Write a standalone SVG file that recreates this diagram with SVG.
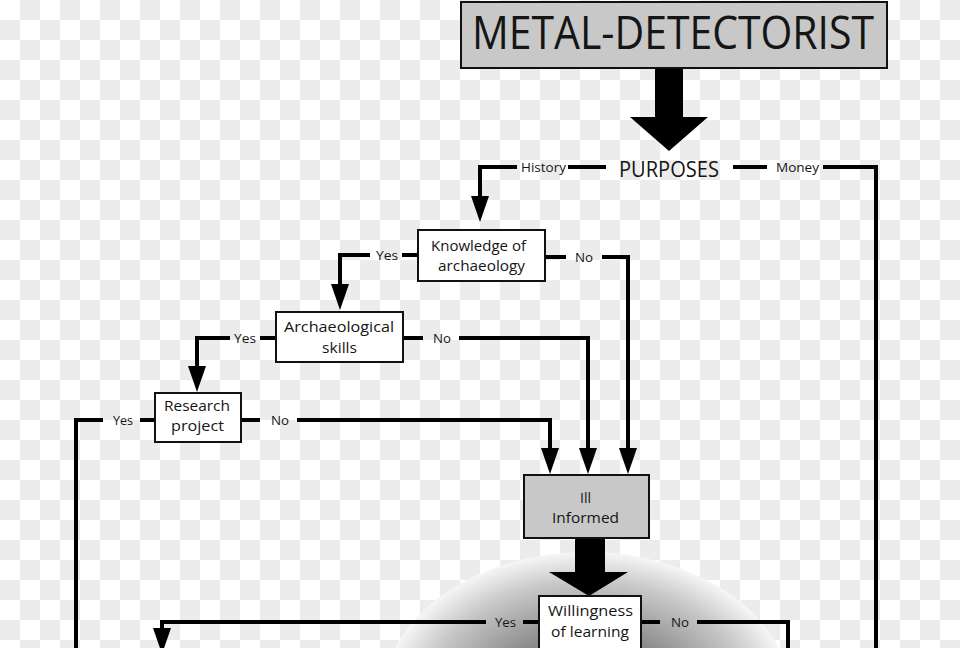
<svg xmlns="http://www.w3.org/2000/svg" width="960" height="648" viewBox="0 0 960 648">
<defs>
<pattern id="chk" width="40" height="40" patternUnits="userSpaceOnUse">
<rect width="40" height="40" fill="#ffffff"/>
<rect x="20" y="0" width="20" height="20" fill="#ececec"/>
<rect x="0" y="20" width="20" height="20" fill="#ececec"/>
</pattern>
<radialGradient id="glow" cx="0.5" cy="0.5" r="0.5">
<stop offset="0" stop-color="#5e5e5e"/>
<stop offset="0.45" stop-color="#8a8a8a"/>
<stop offset="0.8" stop-color="#c8c8c8"/>
<stop offset="1" stop-color="#f6f6f6"/>
</radialGradient>
<marker id="ah" markerUnits="userSpaceOnUse" markerWidth="26" markerHeight="18" refX="16" refY="9" orient="auto" overflow="visible">
<path d="M0,0 L26,9 L0,18 z" fill="#000"/>
</marker>
<style>
.ln{fill:none;stroke:#000;stroke-width:4;stroke-linejoin:miter}
.arr{marker-end:url(#ah)}
.box{fill:#fff;stroke:#111;stroke-width:2}
.gbox{fill:#c8c8c8;stroke:#111;stroke-width:2}
.fat{fill:#000}
text{font-family:"Open Sans","Noto Sans","Liberation Sans",sans-serif;fill:#151515}
.bt{font-size:15px}
.lb{font-size:13px}
</style>
</defs>
<rect width="960" height="648" fill="url(#chk)"/>
<ellipse cx="587" cy="700" rx="205" ry="148" fill="url(#glow)"/>

<g id="connectors">
<path class="ln arr" d="M517,167 H480 V212"/>
<path class="ln" d="M568,167 H606"/>
<path class="ln" d="M733,167 H767"/>
<path class="ln" d="M823,167 H876 V650"/>
<path class="ln arr" d="M370,255 H340 V300"/>
<path class="ln" d="M402,255 H418"/>
<path class="ln" d="M546,257 H566"/>
<path class="ln arr" d="M602,257 H628 V464"/>
<path class="ln" d="M260,338 H276"/>
<path class="ln arr" d="M230,338 H197 V382"/>
<path class="ln" d="M404,338 H423"/>
<path class="ln arr" d="M459,338 H588 V464"/>
<path class="ln" d="M140,420 H155"/>
<path class="ln" d="M103,420 H76 V650"/>
<path class="ln" d="M241,420 H260"/>
<path class="ln arr" d="M297,420 H550 V464"/>
<path class="ln" d="M523,622 H538"/>
<path class="ln arr" d="M486,622 H162 V644"/>
<path class="ln" d="M642,622 H660"/>
<path class="ln" d="M697,622 H788 V650"/>
<polygon class="fat" points="655,68 683,68 683,117 708,117 669,151 630,117 655,117"/>
<polygon class="fat" points="575,539 605,539 605,572 628,572 589,596 549,572 575,572"/>
</g>

<g id="n-title">
<rect class="gbox" x="461" y="2" width="426" height="66"/>
<text x="472" y="49" font-size="46" textLength="402" lengthAdjust="spacingAndGlyphs">METAL-DETECTORIST</text>
</g>
<g id="n-purposes">
<text x="619" y="177" font-size="21" textLength="100" lengthAdjust="spacingAndGlyphs">PURPOSES</text>
</g>
<g id="labels">
<text class="lb" x="521" y="172" textLength="45" lengthAdjust="spacingAndGlyphs">History</text>
<text class="lb" x="776" y="172" textLength="43" lengthAdjust="spacingAndGlyphs">Money</text>
<text class="lb" x="376" y="260" textLength="22" lengthAdjust="spacingAndGlyphs">Yes</text>
<text class="lb" x="575" y="262" textLength="18" lengthAdjust="spacingAndGlyphs">No</text>
<text class="lb" x="234" y="343" textLength="22" lengthAdjust="spacingAndGlyphs">Yes</text>
<text class="lb" x="433" y="343" textLength="18" lengthAdjust="spacingAndGlyphs">No</text>
<text class="lb" x="113" y="425" textLength="20" lengthAdjust="spacingAndGlyphs">Yes</text>
<text class="lb" x="271" y="425" textLength="18" lengthAdjust="spacingAndGlyphs">No</text>
<text class="lb" x="495" y="627" textLength="21" lengthAdjust="spacingAndGlyphs">Yes</text>
<text class="lb" x="671" y="627" textLength="18" lengthAdjust="spacingAndGlyphs">No</text>
</g>
<g id="n-knowledge">
<rect class="box" x="418" y="230" width="127" height="51"/>
<text class="bt" x="431" y="251" textLength="95" lengthAdjust="spacingAndGlyphs">Knowledge of</text>
<text class="bt" x="438" y="271" textLength="87" lengthAdjust="spacingAndGlyphs">archaeology</text>
</g>
<g id="n-skills">
<rect class="box" x="276" y="312" width="127" height="50"/>
<text class="bt" x="284" y="331.5" textLength="110" lengthAdjust="spacingAndGlyphs">Archaeological</text>
<text class="bt" x="322" y="352.5" textLength="35" lengthAdjust="spacingAndGlyphs">skills</text>
</g>
<g id="n-research">
<rect class="box" x="155" y="393" width="86" height="49"/>
<text class="bt" x="164" y="410.5" textLength="66" lengthAdjust="spacingAndGlyphs">Research</text>
<text class="bt" x="171" y="431" textLength="53" lengthAdjust="spacingAndGlyphs">project</text>
</g>
<g id="n-ill">
<rect class="gbox" x="524" y="475" width="125" height="63"/>
<text class="bt" x="580" y="503" textLength="11" lengthAdjust="spacingAndGlyphs">Ill</text>
<text class="bt" x="552" y="523" textLength="67" lengthAdjust="spacingAndGlyphs">Informed</text>
</g>
<g id="n-willingness">
<rect class="box" x="539" y="596" width="102" height="70"/>
<text class="bt" x="548" y="616" textLength="85" lengthAdjust="spacingAndGlyphs">Willingness</text>
<text class="bt" x="551" y="636.5" textLength="78" lengthAdjust="spacingAndGlyphs">of learning</text>
</g>
</svg>
